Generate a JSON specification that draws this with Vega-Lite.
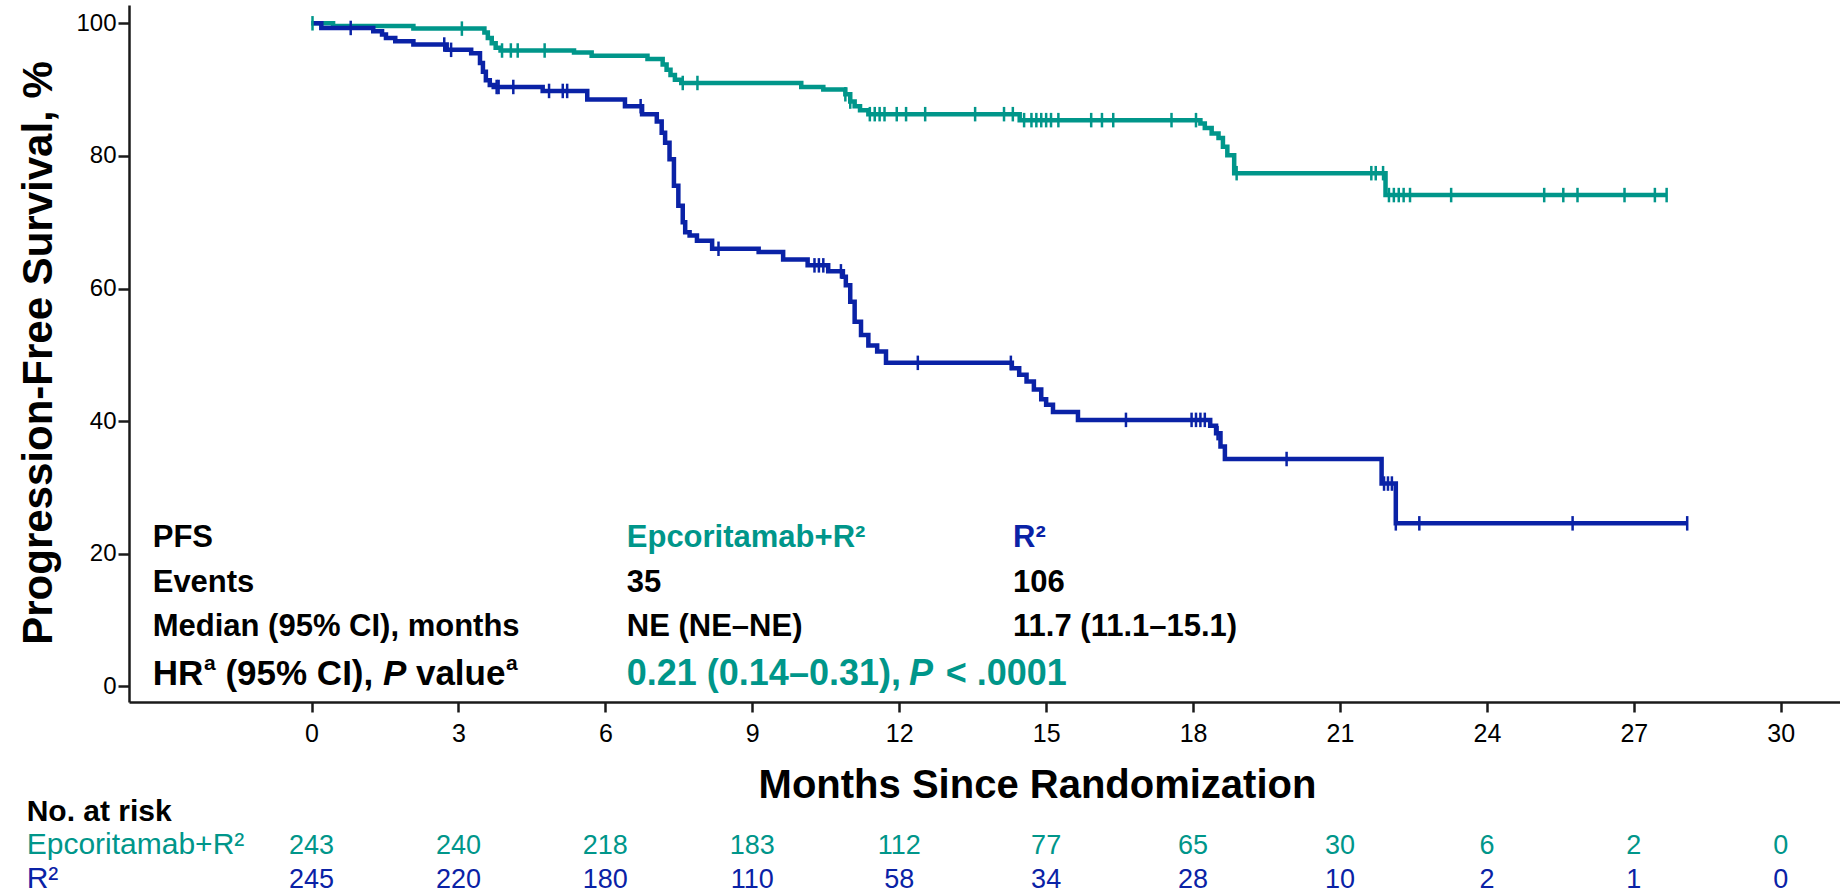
{
  "$schema": "https://vega.github.io/schema/vega-lite/v6.json",
  "width": 1711,
  "height": 697,
  "autosize": {"type": "none"},
  "padding": {"left": 129, "top": 5, "right": 0, "bottom": 193},
  "background": "white",
  "config": {"view": {"stroke": null}, "font": "Liberation Sans"},
  "datasets": {
    "steps": [
      {"arm": "Epcoritamab+R²", "month": 0, "pct": 100},
      {"arm": "Epcoritamab+R²", "month": 0.44, "pct": 99.6},
      {"arm": "Epcoritamab+R²", "month": 2.08, "pct": 99.2},
      {"arm": "Epcoritamab+R²", "month": 3.53, "pct": 98.6},
      {"arm": "Epcoritamab+R²", "month": 3.6, "pct": 97.8},
      {"arm": "Epcoritamab+R²", "month": 3.68, "pct": 97.0},
      {"arm": "Epcoritamab+R²", "month": 3.76, "pct": 96.3},
      {"arm": "Epcoritamab+R²", "month": 3.86, "pct": 95.9},
      {"arm": "Epcoritamab+R²", "month": 5.36, "pct": 95.6},
      {"arm": "Epcoritamab+R²", "month": 5.72, "pct": 95.1},
      {"arm": "Epcoritamab+R²", "month": 6.86, "pct": 94.6},
      {"arm": "Epcoritamab+R²", "month": 7.17, "pct": 93.8},
      {"arm": "Epcoritamab+R²", "month": 7.25, "pct": 93.0},
      {"arm": "Epcoritamab+R²", "month": 7.33, "pct": 92.2},
      {"arm": "Epcoritamab+R²", "month": 7.42, "pct": 91.5},
      {"arm": "Epcoritamab+R²", "month": 7.55, "pct": 91.0},
      {"arm": "Epcoritamab+R²", "month": 10.0, "pct": 90.4},
      {"arm": "Epcoritamab+R²", "month": 10.45, "pct": 90.0},
      {"arm": "Epcoritamab+R²", "month": 10.9, "pct": 89.3},
      {"arm": "Epcoritamab+R²", "month": 11.0, "pct": 88.2},
      {"arm": "Epcoritamab+R²", "month": 11.09, "pct": 87.5},
      {"arm": "Epcoritamab+R²", "month": 11.2, "pct": 86.9},
      {"arm": "Epcoritamab+R²", "month": 11.37, "pct": 86.3},
      {"arm": "Epcoritamab+R²", "month": 14.46, "pct": 85.4},
      {"arm": "Epcoritamab+R²", "month": 18.15, "pct": 84.9},
      {"arm": "Epcoritamab+R²", "month": 18.24, "pct": 84.2},
      {"arm": "Epcoritamab+R²", "month": 18.38, "pct": 83.4},
      {"arm": "Epcoritamab+R²", "month": 18.52, "pct": 82.7},
      {"arm": "Epcoritamab+R²", "month": 18.61, "pct": 81.4},
      {"arm": "Epcoritamab+R²", "month": 18.7, "pct": 80.1},
      {"arm": "Epcoritamab+R²", "month": 18.84, "pct": 77.4},
      {"arm": "Epcoritamab+R²", "month": 21.93, "pct": 74.1},
      {"arm": "Epcoritamab+R²", "month": 27.67, "pct": 74.1},
      {"arm": "R²", "month": 0, "pct": 100},
      {"arm": "R²", "month": 0.2, "pct": 99.3},
      {"arm": "R²", "month": 1.26, "pct": 98.8},
      {"arm": "R²", "month": 1.44, "pct": 98.3},
      {"arm": "R²", "month": 1.52, "pct": 97.8},
      {"arm": "R²", "month": 1.71, "pct": 97.3},
      {"arm": "R²", "month": 2.08, "pct": 96.8},
      {"arm": "R²", "month": 2.76, "pct": 96.0},
      {"arm": "R²", "month": 3.26, "pct": 95.5},
      {"arm": "R²", "month": 3.44, "pct": 94.0},
      {"arm": "R²", "month": 3.5, "pct": 92.7},
      {"arm": "R²", "month": 3.56, "pct": 91.4},
      {"arm": "R²", "month": 3.64, "pct": 90.7},
      {"arm": "R²", "month": 3.72, "pct": 90.4},
      {"arm": "R²", "month": 4.72, "pct": 89.8},
      {"arm": "R²", "month": 5.63, "pct": 88.5},
      {"arm": "R²", "month": 6.4, "pct": 87.5},
      {"arm": "R²", "month": 6.75, "pct": 86.3},
      {"arm": "R²", "month": 7.05, "pct": 85.2},
      {"arm": "R²", "month": 7.15, "pct": 83.5},
      {"arm": "R²", "month": 7.22, "pct": 82.0},
      {"arm": "R²", "month": 7.31, "pct": 79.5},
      {"arm": "R²", "month": 7.4, "pct": 75.5},
      {"arm": "R²", "month": 7.49, "pct": 72.5},
      {"arm": "R²", "month": 7.58, "pct": 70.0},
      {"arm": "R²", "month": 7.63, "pct": 68.5},
      {"arm": "R²", "month": 7.72, "pct": 68.0},
      {"arm": "R²", "month": 7.87, "pct": 67.2},
      {"arm": "R²", "month": 8.18, "pct": 66.0},
      {"arm": "R²", "month": 9.13, "pct": 65.5},
      {"arm": "R²", "month": 9.63, "pct": 64.4},
      {"arm": "R²", "month": 10.13, "pct": 63.5},
      {"arm": "R²", "month": 10.55, "pct": 62.6},
      {"arm": "R²", "month": 10.85, "pct": 61.8},
      {"arm": "R²", "month": 10.91, "pct": 60.5},
      {"arm": "R²", "month": 11.0, "pct": 58.0},
      {"arm": "R²", "month": 11.09, "pct": 55.0},
      {"arm": "R²", "month": 11.22, "pct": 53.0},
      {"arm": "R²", "month": 11.37, "pct": 51.4},
      {"arm": "R²", "month": 11.55, "pct": 50.5},
      {"arm": "R²", "month": 11.73, "pct": 48.8},
      {"arm": "R²", "month": 14.3, "pct": 48.0},
      {"arm": "R²", "month": 14.45, "pct": 47.0},
      {"arm": "R²", "month": 14.6, "pct": 46.0},
      {"arm": "R²", "month": 14.75, "pct": 44.8},
      {"arm": "R²", "month": 14.9, "pct": 43.3},
      {"arm": "R²", "month": 15.0, "pct": 42.5},
      {"arm": "R²", "month": 15.14, "pct": 41.4},
      {"arm": "R²", "month": 15.65, "pct": 40.2},
      {"arm": "R²", "month": 18.35, "pct": 39.3},
      {"arm": "R²", "month": 18.47, "pct": 38.2},
      {"arm": "R²", "month": 18.56, "pct": 36.2},
      {"arm": "R²", "month": 18.65, "pct": 34.3},
      {"arm": "R²", "month": 21.85, "pct": 30.6},
      {"arm": "R²", "month": 22.14, "pct": 24.6},
      {"arm": "R²", "month": 28.09, "pct": 24.6}
    ],
    "censor": [
      {"arm": "Epcoritamab+R²", "month": 0.02, "pct": 100},
      {"arm": "Epcoritamab+R²", "month": 3.07, "pct": 99.2},
      {"arm": "Epcoritamab+R²", "month": 3.89, "pct": 95.9},
      {"arm": "Epcoritamab+R²", "month": 4.07, "pct": 95.9},
      {"arm": "Epcoritamab+R²", "month": 4.21, "pct": 95.9},
      {"arm": "Epcoritamab+R²", "month": 4.76, "pct": 95.9},
      {"arm": "Epcoritamab+R²", "month": 7.58, "pct": 91.0},
      {"arm": "Epcoritamab+R²", "month": 7.88, "pct": 91.0},
      {"arm": "Epcoritamab+R²", "month": 10.9, "pct": 89.3},
      {"arm": "Epcoritamab+R²", "month": 11.0, "pct": 88.2},
      {"arm": "Epcoritamab+R²", "month": 11.4, "pct": 86.3},
      {"arm": "Epcoritamab+R²", "month": 11.5, "pct": 86.3},
      {"arm": "Epcoritamab+R²", "month": 11.6, "pct": 86.3},
      {"arm": "Epcoritamab+R²", "month": 11.7, "pct": 86.3},
      {"arm": "Epcoritamab+R²", "month": 11.95, "pct": 86.3},
      {"arm": "Epcoritamab+R²", "month": 12.14, "pct": 86.3},
      {"arm": "Epcoritamab+R²", "month": 12.53, "pct": 86.3},
      {"arm": "Epcoritamab+R²", "month": 13.55, "pct": 86.3},
      {"arm": "Epcoritamab+R²", "month": 14.14, "pct": 86.3},
      {"arm": "Epcoritamab+R²", "month": 14.32, "pct": 86.3},
      {"arm": "Epcoritamab+R²", "month": 14.55, "pct": 85.4},
      {"arm": "Epcoritamab+R²", "month": 14.7, "pct": 85.4},
      {"arm": "Epcoritamab+R²", "month": 14.8, "pct": 85.4},
      {"arm": "Epcoritamab+R²", "month": 14.9, "pct": 85.4},
      {"arm": "Epcoritamab+R²", "month": 15.0, "pct": 85.4},
      {"arm": "Epcoritamab+R²", "month": 15.1, "pct": 85.4},
      {"arm": "Epcoritamab+R²", "month": 15.25, "pct": 85.4},
      {"arm": "Epcoritamab+R²", "month": 15.92, "pct": 85.4},
      {"arm": "Epcoritamab+R²", "month": 16.14, "pct": 85.4},
      {"arm": "Epcoritamab+R²", "month": 16.37, "pct": 85.4},
      {"arm": "Epcoritamab+R²", "month": 17.56, "pct": 85.4},
      {"arm": "Epcoritamab+R²", "month": 18.06, "pct": 85.4},
      {"arm": "Epcoritamab+R²", "month": 18.89, "pct": 77.4},
      {"arm": "Epcoritamab+R²", "month": 21.64, "pct": 77.4},
      {"arm": "Epcoritamab+R²", "month": 21.73, "pct": 77.4},
      {"arm": "Epcoritamab+R²", "month": 21.88, "pct": 77.4},
      {"arm": "Epcoritamab+R²", "month": 22.0, "pct": 74.1},
      {"arm": "Epcoritamab+R²", "month": 22.1, "pct": 74.1},
      {"arm": "Epcoritamab+R²", "month": 22.2, "pct": 74.1},
      {"arm": "Epcoritamab+R²", "month": 22.3, "pct": 74.1},
      {"arm": "Epcoritamab+R²", "month": 22.43, "pct": 74.1},
      {"arm": "Epcoritamab+R²", "month": 23.27, "pct": 74.1},
      {"arm": "Epcoritamab+R²", "month": 25.17, "pct": 74.1},
      {"arm": "Epcoritamab+R²", "month": 25.56, "pct": 74.1},
      {"arm": "Epcoritamab+R²", "month": 25.85, "pct": 74.1},
      {"arm": "Epcoritamab+R²", "month": 26.81, "pct": 74.1},
      {"arm": "Epcoritamab+R²", "month": 27.43, "pct": 74.1},
      {"arm": "Epcoritamab+R²", "month": 27.67, "pct": 74.1},
      {"arm": "R²", "month": 0.8, "pct": 99.3},
      {"arm": "R²", "month": 2.71, "pct": 96.8},
      {"arm": "R²", "month": 2.85, "pct": 96.0},
      {"arm": "R²", "month": 3.78, "pct": 90.4},
      {"arm": "R²", "month": 3.82, "pct": 90.4},
      {"arm": "R²", "month": 4.12, "pct": 90.4},
      {"arm": "R²", "month": 4.85, "pct": 89.8},
      {"arm": "R²", "month": 5.13, "pct": 89.8},
      {"arm": "R²", "month": 5.22, "pct": 89.8},
      {"arm": "R²", "month": 6.72, "pct": 87.5},
      {"arm": "R²", "month": 8.31, "pct": 66.0},
      {"arm": "R²", "month": 10.27, "pct": 63.5},
      {"arm": "R²", "month": 10.36, "pct": 63.5},
      {"arm": "R²", "month": 10.45, "pct": 63.5},
      {"arm": "R²", "month": 10.81, "pct": 62.6},
      {"arm": "R²", "month": 12.38, "pct": 48.8},
      {"arm": "R²", "month": 14.28, "pct": 48.8},
      {"arm": "R²", "month": 16.63, "pct": 40.2},
      {"arm": "R²", "month": 17.97, "pct": 40.2},
      {"arm": "R²", "month": 18.06, "pct": 40.2},
      {"arm": "R²", "month": 18.15, "pct": 40.2},
      {"arm": "R²", "month": 18.24, "pct": 40.2},
      {"arm": "R²", "month": 18.5, "pct": 38.2},
      {"arm": "R²", "month": 19.91, "pct": 34.3},
      {"arm": "R²", "month": 21.9, "pct": 30.6},
      {"arm": "R²", "month": 21.98, "pct": 30.6},
      {"arm": "R²", "month": 22.06, "pct": 30.6},
      {"arm": "R²", "month": 22.14, "pct": 24.6},
      {"arm": "R²", "month": 22.62, "pct": 24.6},
      {"arm": "R²", "month": 25.75, "pct": 24.6},
      {"arm": "R²", "month": 28.09, "pct": 24.6}
    ],
    "table_black": [
      {"month": -3.243, "pct": 21.08, "label": "PFS"},
      {"month": -3.243, "pct": 14.29, "label": "Events"},
      {"month": -3.243, "pct": 7.61, "label": "Median (95% CI), months"},
      {"month": 6.437, "pct": 14.29, "label": "35"},
      {"month": 6.437, "pct": 7.61, "label": "NE (NE–NE)"},
      {"month": 14.325, "pct": 14.29, "label": "106"},
      {"month": 14.325, "pct": 7.61, "label": "11.7 (11.1–15.1)"}
    ],
    "table_heads": [
      {"arm": "Epcoritamab+R²", "month": 6.437, "pct": 21.08, "label": "Epcoritamab+R²"},
      {"arm": "R²", "month": 14.325, "pct": 21.08, "label": "R²"}
    ],
    "hr_black": [
      {"month": -3.243, "pct": 0.23, "label": "HR"},
      {"month": -1.758, "pct": 0.23, "label": "(95% CI),"},
      {"month": 2.132, "pct": 0.23, "label": "value"}
    ],
    "hr_black_italic": [
      {"month": 1.458, "pct": 0.23, "label": "P"}
    ],
    "hr_sup": [
      {"month": -2.195, "pct": 2.49, "label": "a"},
      {"month": 3.972, "pct": 2.49, "label": "a"}
    ],
    "hr_value": [
      {"arm": "Epcoritamab+R²", "month": 6.437, "pct": 0.23, "label": "0.21 (0.14–0.31),"},
      {"arm": "Epcoritamab+R²", "month": 12.95, "pct": 0.23, "label": "< .0001"}
    ],
    "hr_value_italic": [
      {"arm": "Epcoritamab+R²", "month": 12.2, "pct": 0.23, "label": "P"}
    ],
    "risk": [
      {"arm": "Epcoritamab+R²", "month": 0, "pct": -25.26, "n": 243},
      {"arm": "Epcoritamab+R²", "month": 3, "pct": -25.26, "n": 240},
      {"arm": "Epcoritamab+R²", "month": 6, "pct": -25.26, "n": 218},
      {"arm": "Epcoritamab+R²", "month": 9, "pct": -25.26, "n": 183},
      {"arm": "Epcoritamab+R²", "month": 12, "pct": -25.26, "n": 112},
      {"arm": "Epcoritamab+R²", "month": 15, "pct": -25.26, "n": 77},
      {"arm": "Epcoritamab+R²", "month": 18, "pct": -25.26, "n": 65},
      {"arm": "Epcoritamab+R²", "month": 21, "pct": -25.26, "n": 30},
      {"arm": "Epcoritamab+R²", "month": 24, "pct": -25.26, "n": 6},
      {"arm": "Epcoritamab+R²", "month": 27, "pct": -25.26, "n": 2},
      {"arm": "Epcoritamab+R²", "month": 30, "pct": -25.26, "n": 0},
      {"arm": "R²", "month": 0, "pct": -30.38, "n": 245},
      {"arm": "R²", "month": 3, "pct": -30.38, "n": 220},
      {"arm": "R²", "month": 6, "pct": -30.38, "n": 180},
      {"arm": "R²", "month": 9, "pct": -30.38, "n": 110},
      {"arm": "R²", "month": 12, "pct": -30.38, "n": 58},
      {"arm": "R²", "month": 15, "pct": -30.38, "n": 34},
      {"arm": "R²", "month": 18, "pct": -30.38, "n": 28},
      {"arm": "R²", "month": 21, "pct": -30.38, "n": 10},
      {"arm": "R²", "month": 24, "pct": -30.38, "n": 2},
      {"arm": "R²", "month": 27, "pct": -30.38, "n": 1},
      {"arm": "R²", "month": 30, "pct": -30.38, "n": 0}
    ],
    "risk_title": [
      {"month": -5.816, "pct": -20.24, "label": "No. at risk"}
    ],
    "risk_labels": [
      {"arm": "Epcoritamab+R²", "month": -5.816, "pct": -25.26, "label": "Epcoritamab+R²"},
      {"arm": "R²", "month": -5.816, "pct": -30.38, "label": "R²"}
    ]
  },
  "encoding": {
    "x": {
      "field": "month",
      "type": "quantitative",
      "scale": {"domain": [-3.727, 31.21], "nice": false, "zero": false},
      "axis": {
        "values": [0, 3, 6, 9, 12, 15, 18, 21, 24, 27, 30],
        "grid": false,
        "domainColor": "#1a1a1a",
        "domainWidth": 2.5,
        "tickColor": "#1a1a1a",
        "tickWidth": 2.5,
        "tickSize": 10,
        "labelFont": "Liberation Sans",
        "labelFontSize": 25,
        "labelColor": "#000000",
        "labelPadding": 9,
        "labelFlush": false,
        "labelOverlap": false,
        "title": "Months Since Randomization",
        "titleFont": "Liberation Sans",
        "titleFontWeight": "bold",
        "titleFontSize": 40,
        "titleColor": "#000000",
        "titleX": 908,
        "titleY": 95.5,
        "titleAlign": "center",
        "titleBaseline": "alphabetic"
      }
    },
    "y": {
      "field": "pct",
      "type": "quantitative",
      "scale": {"domain": [-2.34, 102.76], "nice": false, "zero": false},
      "axis": {
        "values": [0, 20, 40, 60, 80, 100],
        "grid": false,
        "domainColor": "#1a1a1a",
        "domainWidth": 2.5,
        "tickColor": "#1a1a1a",
        "tickWidth": 2.5,
        "tickSize": 11,
        "labelFont": "Liberation Sans",
        "labelFontSize": 24,
        "labelColor": "#000000",
        "labelPadding": 2,
        "labelFlush": false,
        "labelOverlap": false,
        "title": "Progression-Free Survival, %",
        "titleFont": "Liberation Sans",
        "titleFontWeight": "bold",
        "titleFontSize": 42,
        "titleColor": "#000000",
        "titleAngle": 270,
        "titleX": -77.7,
        "titleY": 347.5,
        "titleAlign": "center",
        "titleBaseline": "alphabetic"
      }
    }
  },
  "layer": [
    {
      "data": {"name": "steps"},
      "mark": {"type": "line", "interpolate": "step-after", "strokeWidth": 4.5, "strokeCap": "butt"},
      "encoding": {
        "color": {"field": "arm", "type": "nominal", "scale": {"domain": ["Epcoritamab+R²", "R²"], "range": ["#00968A", "#0A22A6"]}, "legend": null}
      }
    },
    {
      "data": {"name": "censor"},
      "mark": {"type": "point", "shape": "M0,-1V1", "filled": false, "size": 210, "strokeWidth": 2.5, "opacity": 1},
      "encoding": {
        "color": {"field": "arm", "type": "nominal", "legend": null}
      }
    },
    {
      "data": {"name": "table_black"},
      "mark": {"type": "text", "font": "Liberation Sans", "fontWeight": "bold", "fontSize": 31, "align": "left", "baseline": "alphabetic", "color": "#000000"},
      "encoding": {"text": {"field": "label"}}
    },
    {
      "data": {"name": "table_heads"},
      "mark": {"type": "text", "font": "Liberation Sans", "fontWeight": "bold", "fontSize": 31, "align": "left", "baseline": "alphabetic"},
      "encoding": {"text": {"field": "label"}, "color": {"field": "arm", "type": "nominal", "legend": null}}
    },
    {
      "data": {"name": "hr_black"},
      "mark": {"type": "text", "font": "Liberation Sans", "fontWeight": "bold", "fontSize": 35, "align": "left", "baseline": "alphabetic", "color": "#000000"},
      "encoding": {"text": {"field": "label"}}
    },
    {
      "data": {"name": "hr_black_italic"},
      "mark": {"type": "text", "font": "Liberation Sans", "fontWeight": "bold", "fontStyle": "italic", "fontSize": 35, "align": "left", "baseline": "alphabetic", "color": "#000000"},
      "encoding": {"text": {"field": "label"}}
    },
    {
      "data": {"name": "hr_sup"},
      "mark": {"type": "text", "font": "Liberation Sans", "fontWeight": "bold", "fontSize": 21, "align": "left", "baseline": "alphabetic", "color": "#000000"},
      "encoding": {"text": {"field": "label"}}
    },
    {
      "data": {"name": "hr_value"},
      "mark": {"type": "text", "font": "Liberation Sans", "fontWeight": "bold", "fontSize": 36, "align": "left", "baseline": "alphabetic"},
      "encoding": {"text": {"field": "label"}, "color": {"field": "arm", "type": "nominal", "legend": null}}
    },
    {
      "data": {"name": "hr_value_italic"},
      "mark": {"type": "text", "font": "Liberation Sans", "fontWeight": "bold", "fontStyle": "italic", "fontSize": 36, "align": "left", "baseline": "alphabetic"},
      "encoding": {"text": {"field": "label"}, "color": {"field": "arm", "type": "nominal", "legend": null}}
    },
    {
      "data": {"name": "risk"},
      "mark": {"type": "text", "font": "Liberation Sans", "fontSize": 27, "align": "center", "baseline": "alphabetic"},
      "encoding": {"text": {"field": "n", "type": "quantitative"}, "color": {"field": "arm", "type": "nominal", "legend": null}}
    },
    {
      "data": {"name": "risk_title"},
      "mark": {"type": "text", "font": "Liberation Sans", "fontWeight": "bold", "fontSize": 30, "align": "left", "baseline": "alphabetic", "color": "#000000"},
      "encoding": {"text": {"field": "label"}}
    },
    {
      "data": {"name": "risk_labels"},
      "mark": {"type": "text", "font": "Liberation Sans", "fontSize": 30, "align": "left", "baseline": "alphabetic"},
      "encoding": {"text": {"field": "label"}, "color": {"field": "arm", "type": "nominal", "legend": null}}
    }
  ]
}
